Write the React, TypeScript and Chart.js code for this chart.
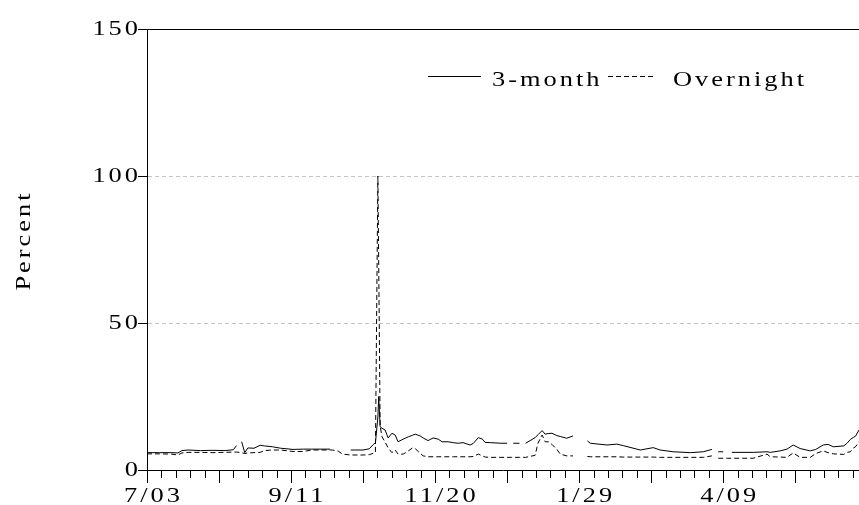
import React, { useEffect, useRef } from 'react';
import { Chart, registerables } from 'chart.js';

Chart.register(...registerables);

const FONT = '22px "Liberation Serif", "Times New Roman", Times, serif';
const LS = 2.5; // letter spacing (in stretched units)
const SX = 1.2; // horizontal stretch of glyphs

// day offsets from 7/03
const days = [
  0, 6, 12, 15, 17, 20, 26, 32, 38, 42, 43.5, 45, 46, 47.5, 49, 52, 55, 57, 61, 65,
  71, 76, 80, 86, 89, 90, 93, 95, 99, 105, 108, 110, 111, 112.2, 112.6, 113.3, 114.2, 115.7, 117.2, 119,
  120.6, 122, 124.5, 127, 129, 130.3, 132.7, 134.2, 136.6, 139, 141.5, 143.4, 146.3, 148.8, 151.2, 153.6, 157, 158.5, 161, 163,
  164.3, 167, 172, 175, 177, 178, 181, 182, 184, 188.6, 190, 192, 193.5, 195, 196.8, 199.2, 200.8, 204, 207, 208,
  213, 214, 215.4, 223.5, 228.3, 231.4, 239.7, 246, 249.4, 255.7, 264, 270.3, 274.5, 276, 277.6, 280, 282, 284.2, 294.6, 301.3,
  302.9, 307.7, 311, 314, 317.4, 322.3, 325, 328.6, 331, 333.5, 338.6, 340.2, 341.8, 343.3, 344.3, 346,
];

const threeMonth = [
  5.9, 5.9, 5.9, 5.8, 6.6, 6.8, 6.6, 6.7, 6.6, 6.9, 8.3, null, 9.6, 5.9, 7.5, 7.4, 8.4, 8.2, 7.9, 7.4,
  7.0, 7.1, 7.1, 7.1, 7.1, null, null, null, 6.8, 6.8, 7.2, 8.7, 9.2, 18, 25, 14.7, 14.2, 13.6, 10.9, 12.5,
  11.9, 9.6, 10.5, 11.3, 11.8, 12.2, 11.6, 10.9, 10.0, 10.9, 10.5, 9.6, 9.6, 9.3, 9.1, 9.3, 8.5, 9.0, 11.0, 10.5,
  9.4, 9.3, 9.1, 9.1, null, 9.1, 9.1, null, 9.1, 11.0, 12.0, 13.4, 12.2, 12.4, 12.5, 11.7, 11.4, 10.8, 11.6, null,
  null, 9.9, 9.1, 8.5, 8.8, 8.3, 6.8, 7.6, 6.8, 6.2, 5.9, 6.2, 7.0, null, 6.2, 6.2, null, 6.0, 6.0, 6.2,
  6.0, 6.5, 7.1, 8.5, 7.3, 6.5, 7.0, 8.5, 8.7, 7.9, 8.2, 9.1, 10.4, 11.1, 11.5, 13.6,
];

const overnight = [
  5.5, 5.5, 5.4, 5.1, 5.8, 6.0, 6.0, 5.9, 6.0, 6.1, 6.1, 6.0, 5.9, 5.6, 5.8, 5.9, 6.0, 6.6, 6.8, 6.8,
  6.3, 6.3, 6.8, 6.8, 6.8, 6.8, 6.4, 5.4, 5.1, 5.1, 5.2, 5.7, 5.9, 100, 70, 15, 11.3, 9.5, 7.5, 5.9,
  6.8, 5.4, 5.4, 6.5, 7.5, 7.3, 5.7, 4.8, 4.5, 4.5, 4.5, 4.5, 4.5, 4.5, 4.5, 4.5, 4.5, 4.6, 5.4, 4.8,
  4.4, 4.3, 4.3, 4.3, 4.3, 4.3, 4.3, 4.3, 4.3, 5.0, 9.1, 11.9, 9.6, 9.6, 8.7, 7.0, 5.4, 4.8, 4.8, null,
  null, 4.6, 4.5, 4.5, 4.5, 4.4, 4.4, 4.4, 4.3, 4.3, 4.3, 4.3, 4.8, null, 4.0, 4.0, 4.0, 4.0, 4.0, 5.4,
  4.5, 4.4, 4.3, 5.8, 4.3, 4.3, 5.6, 6.5, 5.9, 5.5, 5.3, 6.0, 6.2, 7.5, 7.9, 9.6,
];

const seriesNames = ['3-month', 'Overnight'];
const xTickDays = [0, 70, 140, 210, 280];
const xTickLabels = ['7/03', '9/11', '11/20', '1/29', '4/09'];
const weeklyTickDays = [
  0, 7, 14, 21, 28, 35, 42, 49, 56, 63, 70, 77, 84, 91, 98, 105, 112, 119, 126, 133,
  140, 147, 154, 161, 168, 175, 182, 189, 196, 203, 210, 217, 224, 231, 238, 245, 252, 259, 266, 273,
  280, 287, 294, 301, 308, 315, 322, 329, 336, 343,
];
const yTicks = [0, 50, 100, 150];
const yTitle = 'Percent';

function drawSpaced(ctx: any, text: string, x: number, y: number, align: 'left' | 'center' | 'right') {
  ctx.save();
  ctx.font = FONT;
  ctx.letterSpacing = '0px';
  const w = (ctx.measureText(text).width + LS * (text.length - 1)) * SX;
  const x0 = align === 'left' ? x : align === 'center' ? x - w / 2 : x - w;
  ctx.translate(x0, y);
  ctx.scale(SX, 1);
  ctx.letterSpacing = LS + 'px';
  ctx.textAlign = 'left';
  ctx.textBaseline = 'alphabetic';
  ctx.fillStyle = '#000';
  ctx.fillText(text, 0, 0);
  ctx.restore();
}

const decoPlugin = {
  id: 'deco',
  afterDraw(chart: any) {
    const { ctx, chartArea: a, scales } = chart;
    const x = scales.x;
    const y = scales.y;
    ctx.save();
    ctx.strokeStyle = '#000';
    ctx.lineWidth = 1;
    ctx.setLineDash([]);
    // top frame
    ctx.beginPath();
    ctx.moveTo(a.left, a.top + 0.5);
    ctx.lineTo(a.right, a.top + 0.5);
    ctx.stroke();
    // x tick marks
    x.ticks.forEach((t: any) => {
      const px = Math.round(x.getPixelForValue(t.value)) + 0.5;
      const len = t.value % 35 === 0 ? 13 : 8;
      ctx.beginPath();
      ctx.moveTo(px, a.bottom);
      ctx.lineTo(px, a.bottom + len);
      ctx.stroke();
    });
    // x tick labels
    xTickDays.forEach((d, i) => {
      drawSpaced(ctx, xTickLabels[i], x.getPixelForValue(d) + 5, a.bottom + 32, 'center');
    });
    // y tick labels
    y.ticks.forEach((t: any) => {
      drawSpaced(ctx, String(t.value), a.left - 9, y.getPixelForValue(t.value) + 6, 'right');
    });
    // legend
    ctx.beginPath();
    ctx.moveTo(428, 76.5);
    ctx.lineTo(481, 76.5);
    ctx.stroke();
    drawSpaced(ctx, seriesNames[0], 492, 86, 'left');
    ctx.setLineDash([5, 3]);
    ctx.beginPath();
    ctx.moveTo(608, 76.5);
    ctx.lineTo(656, 76.5);
    ctx.stroke();
    ctx.setLineDash([]);
    drawSpaced(ctx, seriesNames[1], 673, 86, 'left');
    // y title
    ctx.translate(30, 242);
    ctx.rotate(-Math.PI / 2);
    drawSpaced(ctx, yTitle, 0, 0, 'center');
    ctx.restore();
  },
};

export default function App() {
  const ref = useRef<HTMLCanvasElement | null>(null);
  useEffect(() => {
    let chart: any = null;
    let cancelled = false;
    const build = () => {
      if (cancelled || !ref.current) return;
      chart = new Chart(ref.current, {
        type: 'line',
        data: {
          datasets: [
            {
              label: seriesNames[0],
              data: days.map((d, i) => ({ x: d, y: threeMonth[i] })),
              borderColor: '#000',
              borderWidth: 1,
              pointRadius: 0,
              tension: 0,
              spanGaps: false,
            },
            {
              label: seriesNames[1],
              data: days.map((d, i) => ({ x: d, y: overnight[i] })),
              borderColor: '#000',
              borderWidth: 1,
              borderDash: [5, 3],
              pointRadius: 0,
              tension: 0,
              spanGaps: false,
            },
          ],
        },
        options: {
          responsive: false,
          animation: false,
          layout: { autoPadding: false, padding: { top: 29, right: 0, bottom: 0, left: 0 } },
          plugins: { legend: { display: false }, tooltip: { enabled: false } },
          scales: {
            x: {
              type: 'linear',
              min: 0,
              max: 346,
              afterBuildTicks: (s: any) => {
                s.ticks = weeklyTickDays.map((v) => ({ value: v }));
              },
              afterFit: (s: any) => {
                s.height = 35;
                s.paddingRight = 0;
                s.paddingLeft = 0;
              },
              grid: { drawOnChartArea: false, drawTicks: false },
              border: { display: true, color: '#000', width: 1 },
              ticks: { display: false, autoSkip: false },
            },
            y: {
              min: 0,
              max: 150,
              afterBuildTicks: (s: any) => {
                s.ticks = yTicks.map((v) => ({ value: v }));
              },
              afterFit: (s: any) => {
                s.width = 147;
              },
              grid: {
                color: (c: any) => (c.tick && (c.tick.value === 50 || c.tick.value === 100) ? '#c4c4c4' : 'rgba(0,0,0,0)'),
                lineWidth: 1,
                tickLength: 9,
                tickColor: '#000',
                tickBorderDash: [],
              },
              border: { display: true, color: '#000', width: 1, dash: [4, 3] },
              ticks: { display: false },
            },
          },
        },
        plugins: [decoPlugin],
      });
    };
    const fonts: any = (document as any).fonts;
    if (fonts && fonts.load) {
      Promise.all([fonts.load('22px "Liberation Serif"')])
        .catch(() => null)
        .then(build);
    } else {
      build();
    }
    return () => {
      cancelled = true;
      if (chart) chart.destroy();
    };
  }, []);
  return (
    <div style={{ position: 'fixed', left: 0, top: 0, width: 859, height: 505, background: '#fff' }}>
      <canvas ref={ref} width={859} height={505} style={{ display: 'block' }} />
    </div>
  );
}
